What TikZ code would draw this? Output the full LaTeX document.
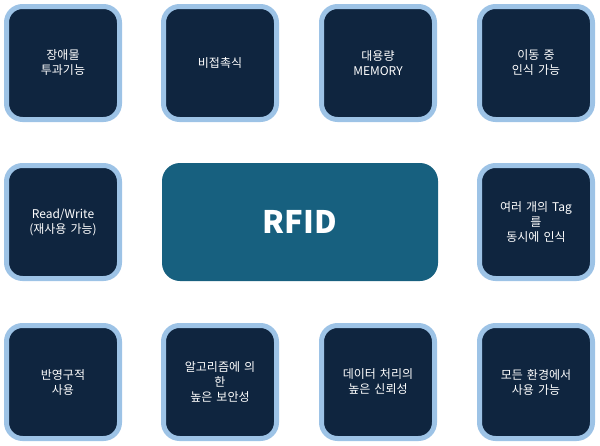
\documentclass[tikz,border=0pt]{standalone}
\usepackage{fontspec}
\setmainfont{Noto Sans CJK KR}
\usepackage{tikz}

\begin{document}
\begin{tikzpicture}[x=1pt,y=-1pt,
	feature/.style={draw=featureedge, fill=featurefill, line width=5pt, rounded corners=16pt,
		minimum width=113pt, minimum height=113pt, text width=104pt, align=center,
		text=white, font=\fontsize{12}{15}\selectfont},
	core/.style={fill=corefill, rounded corners=18pt, minimum width=276pt, minimum height=118pt,
		text=white, font=\fontsize{31}{34}\selectfont\bfseries}]
	\definecolor{featureedge}{HTML}{9DC3E6}
	\definecolor{featurefill}{HTML}{0F253F}
	\definecolor{corefill}{HTML}{17607F}
	\useasboundingbox (0,0) rectangle (600,445);
	% nodes
	\node[feature] (penetrate) at (63, 63) {장애물\\투과기능};
	\node[feature] (contactless) at (220, 63) {비접촉식};
	\node[feature] (memory) at (378, 63) {대용량\\MEMORY};
	\node[feature] (moving) at (536, 63) {이동 중\\인식 가능};
	\node[feature] (rw) at (63, 222) {Read/Write\\(재사용 가능)};
	\node[core] (rfid) at (300, 222) {RFID};
	\node[feature] (multitag) at (536, 222) {여러 개의 Tag\\를\\동시에 인식};
	\node[feature] (permanent) at (63, 382) {반영구적\\사용};
	\node[feature] (security) at (220, 382) {알고리즘에 의\\한\\높은 보안성};
	\node[feature] (reliable) at (378, 382) {데이터 처리의\\높은 신뢰성};
	\node[feature] (anywhere) at (536, 382) {모든 환경에서\\사용 가능};
\end{tikzpicture}
\end{document}
